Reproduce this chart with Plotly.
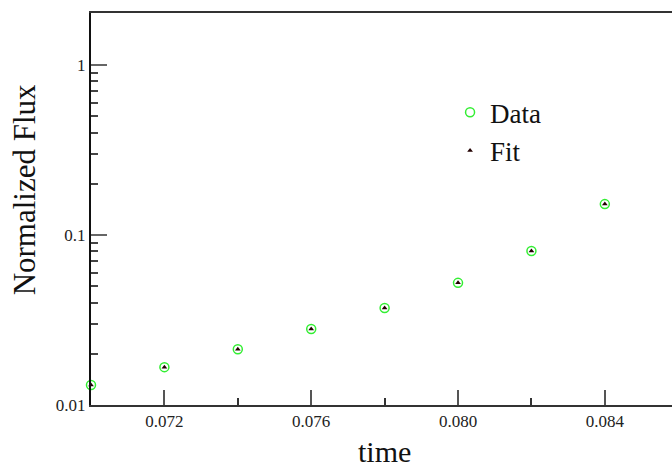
import plotly.graph_objects as go

time = [0.070, 0.072, 0.074, 0.076, 0.078, 0.080, 0.082, 0.084]
data_flux = [0.0131, 0.0167, 0.0213, 0.0280, 0.0372, 0.0523, 0.0806, 0.152]
fit_flux = [0.0131, 0.0167, 0.0213, 0.0280, 0.0372, 0.0523, 0.0806, 0.152]

x_tickvals = [0.072, 0.076, 0.080, 0.084]
x_ticktext = ["0.072", "0.076", "0.080", "0.084"]
y_tickvals = [0.01, 0.1, 1]
y_ticktext = ["0.01", "0.1", "1"]

font = "Liberation Serif, Times New Roman, serif"

fig = go.Figure()
fig.add_trace(go.Scatter(
    x=time, y=data_flux, mode="markers", name="Data", cliponaxis=False,
    marker=dict(symbol="circle-open", size=9, color="#33ee33", line=dict(width=1.5, color="#33ee33")),
))
fig.add_trace(go.Scatter(
    x=time, y=fit_flux, mode="markers", name="Fit", cliponaxis=False,
    marker=dict(symbol="triangle-up", size=5, color="#220000", line=dict(width=0)),
))

fig.update_layout(
    width=672, height=468,
    margin=dict(l=91, r=0, t=13, b=63),
    paper_bgcolor="white", plot_bgcolor="white",
    font=dict(family=font, color="#111111"),
    showlegend=True,
    legend=dict(x=0.618, y=0.808, xanchor="left", yanchor="top",
                font=dict(family=font, size=27, color="#111111"),
                bgcolor="rgba(0,0,0,0)", itemsizing="trace", tracegroupgap=0,
                itemwidth=30),
    annotations=[
        dict(text="Normalized Flux", xref="paper", yref="paper", x=-0.115, y=0.548,
             xanchor="center", yanchor="middle", textangle=-90, showarrow=False,
             font=dict(family=font, size=31, color="#111111")),
        dict(text="time", xref="paper", yref="paper", x=0.506, y=-0.119,
             xanchor="center", yanchor="middle", showarrow=False, borderpad=0,
             font=dict(family=font, size=30, color="#111111")),
    ],
)
fig.update_xaxes(
    range=[0.070, 0.08583], showgrid=False, zeroline=False,
    showline=True, linecolor="#333333", linewidth=2, mirror=True,
    tickmode="array", tickvals=x_tickvals, ticktext=x_ticktext,
    ticks="inside", ticklen=15, tickwidth=1.5, tickcolor="#555555",
    tickfont=dict(family=font, size=17, color="#222222"),
    minor=dict(tickvals=[0.070, 0.074, 0.078, 0.082], ticks="inside", ticklen=7, tickwidth=1.5, tickcolor="#333333"),
)
fig.update_yaxes(
    type="log", range=[-2, 0.306], showgrid=False, zeroline=False,
    showline=True, linecolor="#111111", linewidth=2,
    tickmode="array", tickvals=y_tickvals, ticktext=y_ticktext,
    ticks="inside", ticklen=16, tickwidth=1.5, tickcolor="#666666",
    tickfont=dict(family=font, size=17, color="#222222"),
    minor=dict(tickvals=[m * d for d in (0.01, 0.1, 1) for m in range(2, 10)],
               ticks="inside", ticklen=7, tickwidth=1.5, tickcolor="#444444"),
)

fig.write_html("out.html", config={"displayModeBar": False},
               post_script="document.body.style.margin='0';window.dispatchEvent(new Event('resize'));")
